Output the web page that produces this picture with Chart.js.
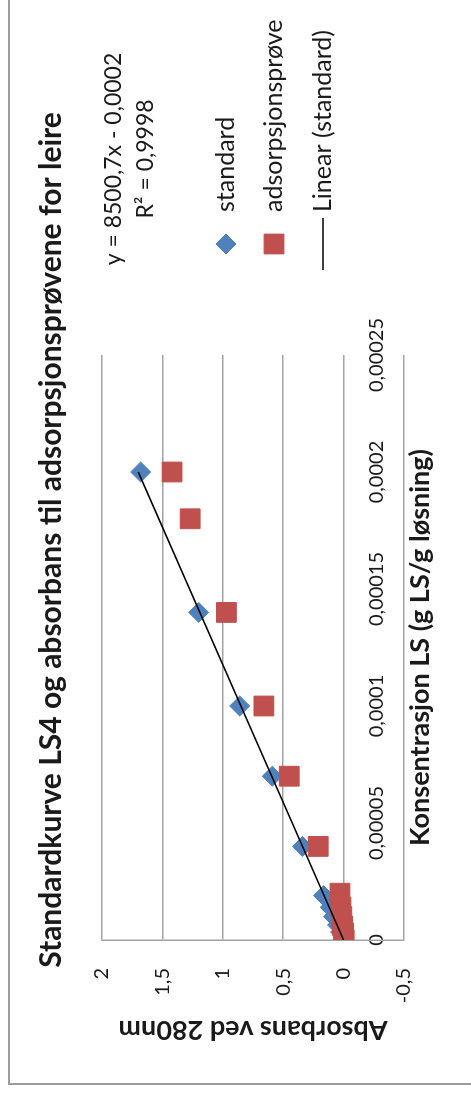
<!DOCTYPE html>
<html>
<head>
<meta charset="utf-8">
<script src="https://cdn.jsdelivr.net/npm/chart.js@4.4.1/dist/chart.umd.min.js"></script>
<style>
  html, body { margin: 0; padding: 0; background: #fff; overflow: hidden; width: 471px; height: 1097px; }
  /* the chart is laid out landscape and turned a quarter turn counter-clockwise */
  #wrap { position: absolute; left: 0; top: 0; width: 1097px; height: 471px;
          transform-origin: 0 0; transform: translateY(1097px) rotate(-90deg); }
  canvas { display: block; }
</style>
</head>
<body>
<div id="wrap"><canvas id="c" width="1097" height="471"></canvas></div>
<script>
// Standard series: concentration (g LS / g solution) and absorbance at 280 nm
const standardX = [0, 0.0000034, 0.0000064, 0.00001, 0.000014, 0.000019, 0.00004, 0.00007, 0.0001, 0.00014, 0.0002];
const standardY = [0, 0.025, 0.05, 0.083, 0.11, 0.166, 0.34, 0.59, 0.86, 1.2, 1.68];

// Adsorption samples
const sampleX = [0, 0.000003, 0.000006, 0.00001, 0.000014, 0.00002, 0.00004, 0.00007, 0.0001, 0.00014, 0.00018, 0.0002];
const sampleY = [-0.005, 0, 0.008, 0.015, 0.022, 0.03, 0.21, 0.45, 0.66, 0.97, 1.27, 1.42];

// Linear fit of the standard series
const trendSlope = 8500.7;
const trendIntercept = -0.0002;
const trendRange = [0, 0.0002];
const trendEquation = 'y = 8500,7x - 0,0002';
const trendR2 = 'R² = 0,9998';

// Axes
const xTicks = [0, 0.00005, 0.0001, 0.00015, 0.0002, 0.00025];
const yTicks = [-0.5, 0, 0.5, 1, 1.5, 2];

const seriesNames = ['standard', 'adsorpsjonsprøve', 'Linear (standard)'];
const chartTitle = 'Standardkurve LS4 og absorbans til adsorpsjonsprøvene for leire';
const xTitle = 'Konsentrasjon LS (g LS/g løsning)';
const yTitle = 'Absorbans ved 280nm';

const FONT = 'Lato, "Open Sans", sans-serif';
const TEXT = '#1a1a1a';
const GRID = '#a3a3a3';

const toPoints = (xs, ys) => xs.map((x, i) => ({ x, y: ys[i] }));
const trendPoints = trendRange.map(x => ({ x, y: trendSlope * x + trendIntercept }));
const fmt = v => String(+Number(v).toPrecision(8)).replace('.', ',');

// Title, fit label, legend and outer frame
const decorations = {
  id: 'decorations',
  beforeDraw(chart) {
    const { ctx, width, height } = chart;
    ctx.save();
    ctx.fillStyle = '#fff';
    ctx.fillRect(0, 0, width, height);
    ctx.strokeStyle = '#9c9c9c';
    ctx.lineWidth = 2;
    ctx.beginPath();
    ctx.moveTo(13, height);
    ctx.lineTo(13, 9);
    ctx.lineTo(width, 9);
    ctx.stroke();
    ctx.restore();
  },
  afterDraw(chart) {
    const ctx = chart.ctx;
    ctx.save();
    ctx.fillStyle = TEXT;
    ctx.textAlign = 'center';
    ctx.textBaseline = 'alphabetic';
    ctx.font = `bold 30px ${FONT}`;
    ctx.fillText(chartTitle, 557, 61);

    ctx.font = `23px ${FONT}`;
    ctx.textBaseline = 'middle';
    ctx.fillText(trendEquation, 938, 114);
    ctx.fillText(trendR2, 938, 146);

    const rows = [226, 274, 323];
    chart.data.datasets.forEach((ds, i) => {
      const y = rows[i];
      if (ds.type === 'line') {
        ctx.strokeStyle = ds.borderColor;
        ctx.lineWidth = ds.borderWidth;
        ctx.beginPath();
        ctx.moveTo(827, y);
        ctx.lineTo(879, y);
        ctx.stroke();
      } else {
        ctx.fillStyle = ds.backgroundColor;
        ctx.strokeStyle = ds.borderColor;
        ctx.lineWidth = ds.borderWidth;
        Chart.helpers.drawPoint(ctx, { pointStyle: ds.pointStyle, radius: ds.pointRadius, borderWidth: ds.borderWidth, rotation: 0 }, 853, y);
      }
      ctx.fillStyle = TEXT;
      ctx.textAlign = 'left';
      ctx.font = `25px ${FONT}`;
      ctx.fillText(ds.label, 885, y);
    });
    ctx.restore();
  }
};

new Chart(document.getElementById('c'), {
  type: 'scatter',
  data: {
    datasets: [
      {
        label: seriesNames[0],
        data: toPoints(standardX, standardY),
        pointStyle: 'rectRot',
        pointRadius: 10,
        backgroundColor: '#4F81BD',
        borderColor: '#4F81BD',
        borderWidth: 1,
        order: 2
      },
      {
        label: seriesNames[1],
        data: toPoints(sampleX, sampleY),
        pointStyle: 'rect',
        pointRadius: 14,
        backgroundColor: '#C0504D',
        borderColor: '#C0504D',
        borderWidth: 1,
        order: 1
      },
      {
        type: 'line',
        label: seriesNames[2],
        data: trendPoints,
        borderColor: '#000',
        borderWidth: 1.6,
        pointRadius: 0,
        fill: false,
        order: 0
      }
    ]
  },
  options: {
    responsive: false,
    animation: false,
    devicePixelRatio: 1,
    layout: { padding: { left: 0, top: 102, right: 355, bottom: 67 } },
    plugins: {
      legend: { display: false },
      tooltip: { enabled: false },
      title: { display: false }
    },
    scales: {
      x: {
        type: 'linear',
        position: { y: 0 },
        min: xTicks[0],
        max: xTicks[xTicks.length - 1],
        afterBuildTicks: s => { s.ticks = xTicks.map(value => ({ value })); },
        ticks: { padding: 21, color: TEXT, font: { family: FONT, size: 20 }, callback: v => fmt(v), maxRotation: 0 },
        grid: { display: false, drawTicks: false },
        border: { display: false },
        title: { display: true, text: xTitle, color: TEXT, font: { family: FONT, size: 27, weight: 'bold' }, padding: { top: 0, bottom: 58 } }
      },
      y: {
        type: 'linear',
        min: yTicks[0],
        max: yTicks[yTicks.length - 1],
        afterBuildTicks: s => { s.ticks = yTicks.map(value => ({ value })); },
        afterFit: s => { s.width = 157; },
        ticks: { padding: 28, color: TEXT, font: { family: FONT, size: 20 }, callback: v => fmt(v) },
        grid: { color: GRID, lineWidth: 1.5, drawTicks: false },
        border: { display: true, color: GRID, width: 1.5 },
        title: { display: true, text: yTitle, color: TEXT, font: { family: FONT, size: 27, weight: 'bold' }, padding: { top: 51, bottom: 0 } }
      }
    }
  },
  plugins: [decorations]
});
</script>
</body>
</html>
